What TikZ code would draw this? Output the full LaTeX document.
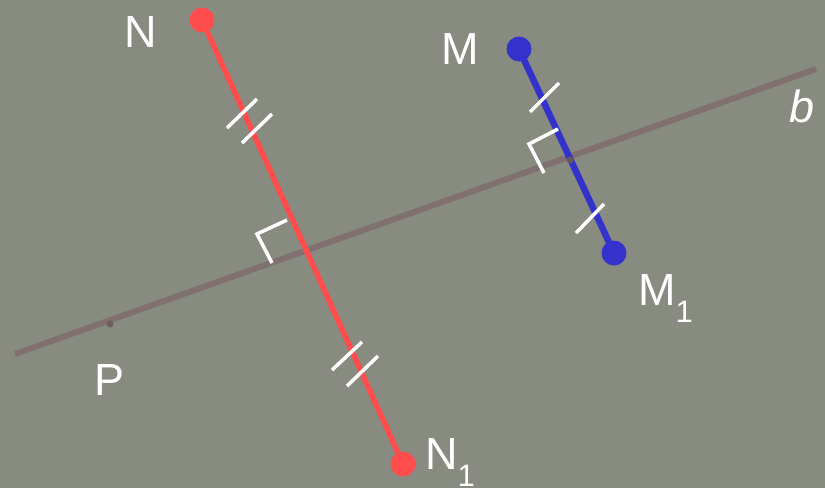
\documentclass[tikz,border=0pt]{standalone}
\usepackage{fontspec}
\setmainfont{Liberation Sans}
\definecolor{bgc}{RGB}{136,140,128}
\definecolor{redl}{RGB}{255,76,76}
\definecolor{bluel}{RGB}{51,51,204}
\definecolor{bline}{RGB}{128,112,112}
\newcommand{\lbl}[2]{\fontsize{45}{45}\selectfont #1\raisebox{-17pt}{\fontsize{31}{31}\selectfont #2}}
\begin{document}
\begin{tikzpicture}[x=1pt,y=-1pt,
  lab/.style={anchor=base west,text=white,inner sep=0pt,font=\fontsize{45}{45}\selectfont},
  tick/.style={draw=white,line width=3.5pt},
  dotr/.style={circle,fill=redl,minimum size=25pt,inner sep=0pt},
  dotb/.style={circle,fill=bluel,minimum size=25pt,inner sep=0pt}]
\fill[bgc] (0,0) rectangle (825,488);
\useasboundingbox (0,0) rectangle (825,488);
% line b
\coordinate (b1) at (15,354);
\coordinate (b2) at (816,69);
\draw[bline,line width=6pt] (b1) -- (b2);
\node[circle,fill=bline!85!black,minimum size=7pt,inner sep=0pt] (P0) at (110,324) {};
% red segment
\node[dotr] (N) at (202,20) {};
\node[dotr] (N1) at (403,464) {};
\draw[redl,line width=5.5pt] (N.center) -- (N1.center);
% blue segment
\node[dotb] (M) at (519,49) {};
\node[dotb] (M1) at (614,253) {};
\draw[bluel,line width=6.5pt] (M.center) -- (M1.center);
\node[circle,fill=bline!80!black,minimum size=7pt,inner sep=0pt] (X) at (570,160) {};
% ticks red
\coordinate (t1a) at (227,128); \coordinate (t1b) at (257,99);
\coordinate (t2a) at (242,143); \coordinate (t2b) at (272,114);
\coordinate (t3a) at (332,370); \coordinate (t3b) at (362,342);
\coordinate (t4a) at (347,386); \coordinate (t4b) at (378,356);
\draw[tick] (t1a) -- (t1b);
\draw[tick] (t2a) -- (t2b);
\draw[tick] (t3a) -- (t3b);
\draw[tick] (t4a) -- (t4b);
% right angle red
\coordinate (ra1) at (287,220); \coordinate (ra2) at (257,234); \coordinate (ra3) at (272,263);
\draw[tick,line join=miter] (ra1) -- (ra2) -- (ra3);
% ticks blue
\coordinate (u1a) at (530,112); \coordinate (u1b) at (559,83);
\coordinate (u2a) at (576,233); \coordinate (u2b) at (604,204);
\draw[tick] (u1a) -- (u1b);
\draw[tick] (u2a) -- (u2b);
% right angle blue
\coordinate (rb1) at (558,129); \coordinate (rb2) at (529,144); \coordinate (rb3) at (544,173);
\draw[tick,line join=miter] (rb1) -- (rb2) -- (rb3);
% labels
\node[lab] (LN) at (124,47) {N};
\node[lab] (LM) at (441,64) {M};
\node[lab] (LM1) at (638,305) {\lbl{M}{1}};
\node[lab] (LN1) at (425,469) {\lbl{N}{1}};
\node[lab] (LP) at (94,395) {P};
\node[lab] (Lb) at (789,122) {\itshape b};
\end{tikzpicture}
\end{document}
